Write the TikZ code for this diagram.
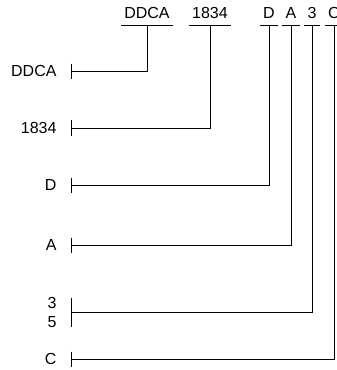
\documentclass[tikz,border=0pt]{standalone}
\usepackage{fontspec}
\setsansfont{Liberation Sans}
\begin{document}
\begin{tikzpicture}[x=1pt,y=-1pt,line width=1pt,
  lbl/.style={font=\sffamily\fontsize{16}{19}\selectfont, inner sep=0pt},
  top/.style={lbl, anchor=base, inner xsep=3pt},
  side/.style={lbl, anchor=east, align=center}]
\useasboundingbox (0,0) rectangle (337,370);

% Draw top labels with underlines
\foreach \n/\x/\t in {ddca/147/DDCA, num/210/1834, d/269/D, a/291/A, t/312/3, c/334/C} {
  \node[top] (t\n) at (\x,18) {\t};
  \draw ([yshift=-7pt]t\n.south west) -- ([yshift=-7pt]t\n.south east);
  \coordinate (u\n) at ([yshift=-7pt]t\n.south);
}

% Draw left labels
\node[side] (lddca) at (57,71) {DDCA};
\node[side] (lnum) at (57,128) {1834};
\node[side] (ld) at (57,185) {D};
\node[side] (la) at (57,245) {A};
\node[side] (lt) at (57,312) {3\\5};
\node[side] (lc) at (57,359) {C};

% Draw bars and connectors
\foreach \n/\h in {ddca/7.5, num/8, d/7.5, a/7.5, t/14.5, c/7.5} {
  \coordinate (b\n) at ([xshift=14pt]l\n.east);
  \draw ([yshift=\h pt]b\n) -- ([yshift=-\h pt]b\n);
  \draw (u\n) |- (b\n);
}
\end{tikzpicture}
\end{document}
